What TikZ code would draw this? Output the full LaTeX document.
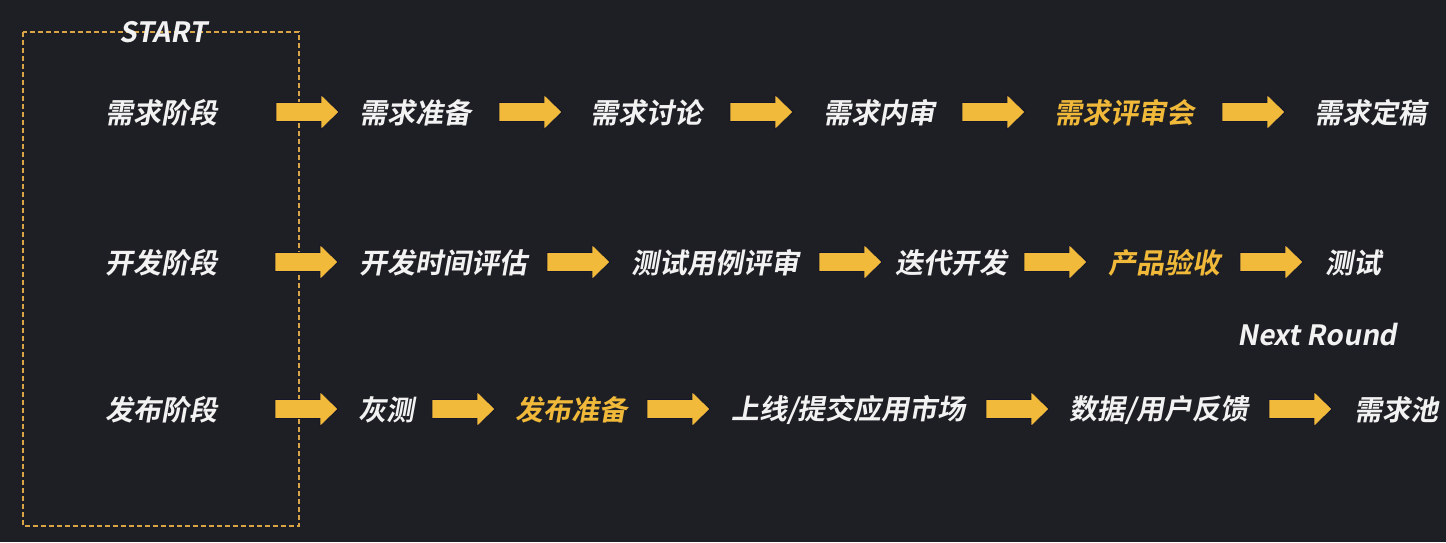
\documentclass[tikz,border=0pt]{standalone}
\usepackage{fontspec}
\newfontfamily\cjkfont[FakeSlant=0.18]{Noto Sans CJK SC Bold}
\definecolor{bgc}{HTML}{1E1F24}
\definecolor{txtw}{HTML}{F2F2F2}
\definecolor{txty}{HTML}{F0B93A}
\definecolor{arrowy}{HTML}{F2BA3A}
\definecolor{arrowedge}{HTML}{15162A}
\definecolor{boxc}{HTML}{D8A445}
\tikzset{
  lbl/.style={font=\cjkfont\fontsize{28}{31}\selectfont, text=txtw, inner sep=0pt, anchor=center},
  hl/.style={text=txty},
  eng/.style={font=\cjkfont\fontsize{28}{31}\selectfont, text=txtw, inner sep=0pt},
  blockarr/.style={fill=arrowy, draw=arrowedge, line width=0.8pt, line join=miter},
  startbox/.style={draw=boxc, line width=1.2pt, dash pattern=on 5pt off 3pt}
}
\newcommand{\blockarrow}[2]{%
  \draw[blockarr] (#1,#2-9.5) -- (#1+45,#2-9.5) -- (#1+45,#2-17.5) -- (#1+63,#2) -- (#1+45,#2+17.5) -- (#1+45,#2+9.5) -- (#1,#2+9.5) -- cycle;}
\begin{document}
\begin{tikzpicture}[x=1pt,y=-1pt]
\fill[bgc] (0,0) rectangle (1446,542);
\useasboundingbox (0,0) rectangle (1446,542);
% start box
\draw[startbox] (23,32) rectangle (299,526);
\node[eng] (start) at (163,32) {START};
% row 1
\node[lbl] (p1) at (161.5,113) {需求阶段};
\node[lbl] (r1a) at (415,113) {需求准备};
\node[lbl] (r1b) at (646,113) {需求讨论};
\node[lbl] (r1c) at (879,113) {需求内审};
\node[lbl,hl] (r1d) at (1124,113) {需求评审会};
\node[lbl] (r1e) at (1370,113) {需求定稿};
\blockarrow{276}{112}
\blockarrow{499}{112}
\blockarrow{730}{112}
\blockarrow{962}{112}
\blockarrow{1222}{112}
% row 2
\node[lbl] (p2) at (161.5,263) {开发阶段};
\node[lbl] (r2a) at (443.5,263) {开发时间评估};
\node[lbl] (r2b) at (715.5,263) {测试用例评审};
\node[lbl] (r2c) at (951,263) {迭代开发};
\node[lbl,hl] (r2d) at (1164.5,263) {产品验收};
\node[lbl] (r2e) at (1353,263) {测试};
\blockarrow{275}{262}
\blockarrow{547}{262}
\blockarrow{819}{262}
\blockarrow{1024}{262}
\blockarrow{1240}{262}
% next round
\node[eng] (next) at (1317,335) {Next Round};
% row 3
\node[lbl] (p3) at (161.5,410) {发布阶段};
\node[lbl] (r3a) at (386.5,410) {灰测};
\node[lbl,hl] (r3b) at (571.5,410) {发布准备};
\node[lbl] (r3c) at (848.5,410) {上线/提交应用市场};
\node[lbl] (r3d) at (1159,410) {数据/用户反馈};
\node[lbl] (r3e) at (1396,410) {需求池};
\blockarrow{275}{409}
\blockarrow{432}{409}
\blockarrow{647}{409}
\blockarrow{986}{409}
\blockarrow{1269}{409}
\end{tikzpicture}
\end{document}
